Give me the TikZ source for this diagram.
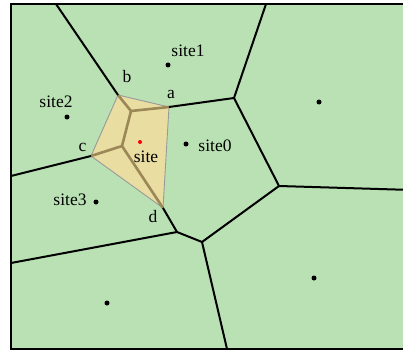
\documentclass[tikz,border=0pt]{standalone}
\usepackage{fontspec}
\setmainfont{Liberation Serif}
\definecolor{cellgreen}{HTML}{B9E1B4}
\definecolor{celltan}{HTML}{E9DDA2}
\definecolor{edgebrown}{HTML}{9C8757}
\definecolor{polygray}{HTML}{9A9A9A}
\begin{document}
\begin{tikzpicture}[x=1pt,y=-1pt,
  vedge/.style={black,line width=2pt},
  inner/.style={edgebrown,line width=2.6pt,line cap=round,line join=round},
  dot/.style={circle,fill=black,inner sep=0pt,minimum size=5pt},
  lbl/.style={font=\fontsize{17.5}{20}\selectfont,inner sep=0pt,anchor=base}]
\useasboundingbox (0,0) rectangle (403,350);
\begin{scope}
\clip (0,0) rectangle (403,350);
% background and frame
\fill[white] (0,0) rectangle (403,350);
\filldraw[fill=cellgreen,draw=black,line width=2.2pt] (11,4) rectangle (412,349);

% Voronoi vertices and frame endpoints
\coordinate (a) at (169,107);
\coordinate (b) at (118,95);
\coordinate (c) at (91,156);
\coordinate (d) at (163,208);
\coordinate (p1) at (131,111);
\coordinate (p2) at (122,146);
\coordinate (v1) at (234,98);
\coordinate (v2) at (279,186);
\coordinate (v3) at (202,242);
\coordinate (v4) at (177,232);
\coordinate (tb) at (56,4);
\coordinate (tv) at (266,4);
\coordinate (rv) at (412,190);
\coordinate (bv) at (227,349);
\coordinate (lc) at (11,176);
\coordinate (lv) at (11,263);

% cell of the inserted site
\filldraw[fill=celltan,draw=polygray,line width=0.9pt,line join=round]
  (b) -- (a) -- (d) -- (c) -- cycle;
\draw[inner] (b) -- (p1) -- (a);
\draw[inner] (p1) -- (p2) -- (c);
\draw[inner] (p2) -- (d);

% Voronoi edges
\draw[vedge] (tb) -- (b);
\draw[vedge] (a) -- (v1) -- (tv);
\draw[vedge] (v1) -- (v2) -- (rv);
\draw[vedge] (v2) -- (v3) -- (bv);
\draw[vedge] (v3) -- (v4) -- (d);
\draw[vedge] (v4) -- (lv);
\draw[vedge] (c) -- (lc);
\end{scope}

% sites
\node[dot] (s1) at (168,65) {};
\node[dot] (s2) at (67,117) {};
\node[dot] (s0) at (186,144) {};
\node[dot] (s3) at (96,202) {};
\node[dot] (s4) at (319,102) {};
\node[dot] (s5) at (107,303) {};
\node[dot] (s6) at (314,278) {};
\node[circle,fill=red,inner sep=0pt,minimum size=4pt] (s) at (140,142) {};

% labels
\node[lbl] (ls1) at (188,57) {site1};
\node[lbl] (ls2) at (56,107) {site2};
\node[lbl] (ls0) at (215,151) {site0};
\node[lbl] (ls) at (146,162) {site};
\node[lbl] (ls3) at (70,205) {site3};
\node[lbl] (la) at (171,99) {a};
\node[lbl] (lb) at (127,83) {b};
\node[lbl] (lc2) at (82.5,151) {c};
\node[lbl] (ld) at (153,222) {d};
\end{tikzpicture}
\end{document}
